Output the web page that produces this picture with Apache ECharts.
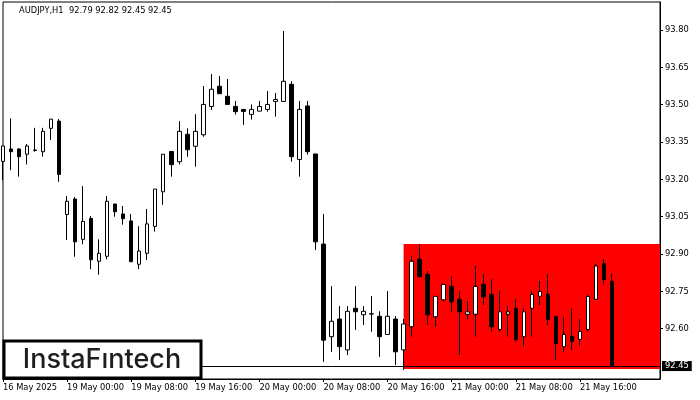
<!DOCTYPE html>
<html>
<head>
<meta charset="utf-8">
<script src="https://cdn.jsdelivr.net/npm/echarts@6/dist/echarts.min.js"></script>
<style>
html,body{margin:0;padding:0;background:#fff;}
#chart{width:700px;height:400px;}
</style>
</head>
<body>
<div id="chart"></div>
<script>
// ---- data ----
const open  = [93.272,93.322,93.322,93.301,93.316,93.311,93.405,93.434,93.059,93.121,92.959,93.043,92.871,92.891,93.101,93.061,93.033,92.859,92.903,93.011,93.150,93.312,93.271,93.381,93.333,93.379,93.493,93.574,93.534,93.493,93.481,93.461,93.474,93.481,93.513,93.513,93.582,93.280,93.495,93.302,92.940,92.568,92.639,92.515,92.682,92.656,92.659,92.650,92.577,92.639,92.515,92.608,92.879,92.818,92.648,92.716,92.770,92.718,92.658,92.658,92.778,92.738,92.597,92.658,92.682,92.568,92.682,92.730,92.738,92.650,92.528,92.569,92.557,92.597,92.718,92.861,92.790];
const high  = [93.334,93.445,93.325,93.342,93.407,93.407,93.442,93.442,93.133,93.129,93.173,93.053,92.959,93.133,93.101,93.093,93.061,93.012,93.081,93.161,93.301,93.312,93.434,93.405,93.462,93.575,93.623,93.615,93.603,93.515,93.481,93.501,93.515,93.555,93.547,93.796,93.595,93.515,93.515,93.302,93.061,92.771,92.691,92.691,92.771,92.691,92.731,92.670,92.751,92.651,92.639,92.892,92.940,92.832,92.730,92.778,92.812,92.751,92.711,92.852,92.818,92.798,92.751,92.691,92.718,92.682,92.751,92.792,92.818,92.650,92.648,92.682,92.638,92.738,92.861,92.880,92.820];
const low   = [93.197,93.237,93.211,93.260,93.311,93.291,93.358,93.190,92.956,92.889,92.939,92.839,92.817,92.879,93.050,93.018,92.869,92.839,92.876,92.990,93.098,93.211,93.260,93.291,93.251,93.371,93.479,93.544,93.500,93.460,93.419,93.440,93.474,93.472,93.452,93.513,93.271,93.211,93.299,92.916,92.467,92.507,92.474,92.494,92.595,92.615,92.588,92.487,92.577,92.454,92.434,92.568,92.809,92.615,92.608,92.708,92.668,92.494,92.638,92.568,92.695,92.588,92.588,92.568,92.548,92.528,92.568,92.695,92.615,92.474,92.507,92.514,92.528,92.588,92.718,92.778,92.450];
const close = [93.334,93.311,93.291,93.334,93.318,93.393,93.442,93.220,93.112,92.949,93.031,92.877,92.903,93.112,93.070,93.042,92.869,92.912,93.021,93.161,93.301,93.259,93.393,93.319,93.393,93.501,93.562,93.544,93.501,93.472,93.473,93.481,93.493,93.501,93.521,93.594,93.291,93.481,93.311,92.949,92.554,92.630,92.528,92.670,92.668,92.670,92.660,92.568,92.650,92.507,92.619,92.871,92.809,92.656,92.730,92.778,92.708,92.668,92.668,92.770,92.728,92.608,92.668,92.668,92.556,92.668,92.738,92.750,92.636,92.540,92.577,92.548,92.589,92.730,92.852,92.797,92.450];

const xTickLabels = ["16 May 2025","19 May 00:00","19 May 08:00","19 May 16:00","20 May 00:00","20 May 08:00","20 May 16:00","21 May 00:00","21 May 08:00","21 May 16:00"];
const yTickValues = [92.60,92.75,92.90,93.05,93.20,93.35,93.50,93.65,93.80];
const lastPrice = 92.45;
const titleText = "AUDJPY,H1  92.79 92.82 92.45 92.45";
const zoneTop = 92.94, zoneBottom = 92.438;
const zoneStartIndex = 50;

// hourly categories (16 May 16:00 onward, weekend skipped) plus empty space on the right
const slotCount = 83;
const categories = [];
for (let i = 0; i < slotCount; i++) categories.push('c' + i);

const candles = open.map((o, i) => [o, close[i], low[i], high[i]]);

const FONT = 'DejaVu Sans';
const FS = 8.3;
const tickShown = (idx) => idx % 8 === 0 && idx / 8 < xTickLabels.length;

const chart = echarts.init(document.getElementById('chart'), null, {renderer: 'canvas'});
chart.setOption({
  animation: false,
  backgroundColor: '#fff',
  grid: {left: 3, right: 40, top: 2, bottom: 21, show: true, borderColor: '#000', borderWidth: 1, backgroundColor: 'transparent'},
  xAxis: {
    type: 'category', data: categories, boundaryGap: false,
    axisLine: {show: true, lineStyle: {color: '#000', width: 1}},
    axisTick: {show: true, length: 3, interval: (idx) => tickShown(idx), lineStyle: {color: '#000'}},
    axisLabel: {
      interval: (idx) => tickShown(idx),
      formatter: (v, idx) => xTickLabels[idx / 8] || '',
      align: 'left', margin: 5, fontSize: FS, fontFamily: FONT, color: '#000'
    },
    splitLine: {show: false}
  },
  yAxis: {
    type: 'value', position: 'right', min: 92.398, max: 93.9125, scale: true,
    axisLine: {show: true, lineStyle: {color: '#000', width: 1}},
    axisTick: {show: true, length: 3, customValues: yTickValues, lineStyle: {color: '#000'}},
    axisLabel: {customValues: yTickValues, formatter: (v) => v.toFixed(2), margin: 5, fontSize: FS, fontFamily: FONT, color: '#000'},
    splitLine: {show: false}
  },
  series: [
    {
      type: 'line', data: [], z: 1, silent: true,
      markArea: {
        silent: true,
        itemStyle: {color: '#ff0000', opacity: 1},
        data: [[{xAxis: zoneStartIndex, yAxis: zoneTop}, {xAxis: slotCount - 1, yAxis: zoneBottom}]]
      }
    },
    {
      type: 'candlestick', data: candles, z: 3, barWidth: 4,
      itemStyle: {color: '#fff', color0: '#000', borderColor: '#000', borderColor0: '#000', borderColorDoji: '#000', borderWidth: 1}
    },
    {
      type: 'line', data: [], z: 4, silent: true,
      markLine: {
        silent: true, symbol: ['none', 'none'],
        lineStyle: {color: '#000', width: 1, type: 'solid'},
        label: {show: true, position: 'end', formatter: lastPrice.toFixed(2), color: '#fff', backgroundColor: '#000',
                padding: [1, 3, 0, 3], lineHeight: 9, fontSize: FS, fontFamily: FONT, distance: 2},
        data: [{yAxis: lastPrice}]
      }
    }
  ],
  graphic: [
    {type: 'text', x: 19, y: 11, z: 100, style: {text: titleText, fontSize: FS, fontFamily: FONT, fill: '#000', align: 'left', verticalAlign: 'middle'}},
    {type: 'rect', z: 100, shape: {x: 4, y: 341, width: 197, height: 37}, style: {fill: '#fff', stroke: '#000', lineWidth: 3}},
    {type: 'text', x: 102, y: 360, z: 101, style: {text: 'InstaFıntech', fontSize: 27, fontWeight: 500, fontFamily: 'Inter', fill: '#1e1e1e', align: 'center', verticalAlign: 'middle'}}
  ]
});
</script>
</body>
</html>
